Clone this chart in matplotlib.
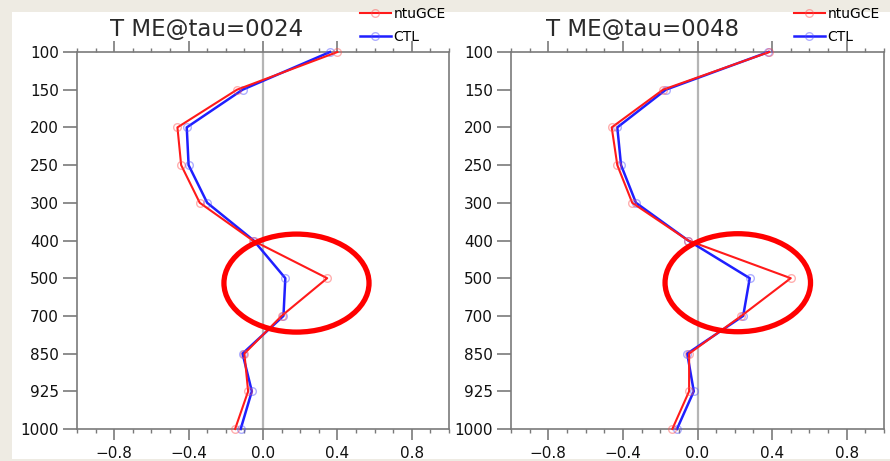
import matplotlib
matplotlib.use("Agg")
import matplotlib.pyplot as plt
from matplotlib.patches import Rectangle, Ellipse
from matplotlib.ticker import MultipleLocator, FixedLocator

levels = ["100", "150", "200", "250", "300", "400", "500", "700", "850", "925", "1000"]

ntugce_24 = [0.40, -0.14, -0.46, -0.44, -0.34, -0.055, 0.345, 0.10, -0.10, -0.08, -0.15]
ctl_24    = [0.36, -0.11, -0.41, -0.40, -0.30, -0.05, 0.12, 0.11, -0.11, -0.06, -0.12]

ntugce_48 = [0.385, -0.185, -0.46, -0.43, -0.35, -0.05, 0.50, 0.235, -0.045, -0.045, -0.135]
ctl_48    = [0.38, -0.17, -0.43, -0.41, -0.33, -0.05, 0.28, 0.245, -0.055, -0.02, -0.11]

titles = ["T ME@tau=0024", "T ME@tau=0048"]
xticks = [-0.8, -0.4, 0.0, 0.4, 0.8]
xticklabels = ["\u22120.8", "\u22120.4", "0.0", "0.4", "0.8"]

W, H = 890, 461
fig = plt.figure(figsize=(W / 100, H / 100), dpi=100)
fig.patch.set_facecolor("#eeebe3")
fig.add_artist(Rectangle((12 / W, 2 / H), 878 / W, 447 / H, transform=fig.transFigure,
                         facecolor="white", edgecolor="none", zorder=0))

axes_px = [(77, 372), (511, 373)]
title_cx = [207, 643]
legend_x = [360, 794]
ell = [(0.18, 6.13), (0.216, 6.12)]

spine_col = "#7a7a7a"
ypos = list(range(len(levels)))

for i, (red, blue) in enumerate([(ntugce_24, ctl_24), (ntugce_48, ctl_48)]):
    left, width = axes_px[i]
    ax = fig.add_axes([left / W, (H - 429) / H, width / W, 377 / H])
    ax.set_facecolor("none")
    ax.set_xlim(-1.0, 1.0)
    ax.set_ylim(len(levels) - 1, 0)
    ax.axvline(0.0, color="#b5b5b5", lw=1.6, zorder=1)
    lb, = ax.plot(blue, ypos, color="#1f1fff", lw=1.8, marker="o", ms=5.5,
                  mfc="none", mec=(0.3, 0.3, 1.0, 0.45), mew=1.0, clip_on=False, zorder=3,
                  label="CTL")
    lr, = ax.plot(red, ypos, color="#ff1a1a", lw=1.5, marker="o", ms=5.5,
                  mfc="none", mec=(1.0, 0.3, 0.3, 0.45), mew=1.0, clip_on=False, zorder=4,
                  label="ntuGCE")
    ax.add_patch(Ellipse(ell[i], 0.78, 2.6, fill=False, edgecolor="#ff0000", lw=3.8, zorder=5,
                         clip_on=False))

    for s in ax.spines.values():
        s.set_color(spine_col)
        s.set_linewidth(1.2)
    ax.xaxis.set_major_locator(FixedLocator(xticks))
    ax.set_xticklabels(xticklabels)
    ax.xaxis.set_minor_locator(MultipleLocator(0.1))
    ax.tick_params(axis="x", which="major", direction="out", length=8, width=1.2,
                   color=spine_col, top=True, bottom=True, labelsize=11, pad=4,
                   labelcolor="#111111")
    ax.tick_params(axis="x", which="minor", direction="out", length=3, width=1.0,
                   color=spine_col, top=True, bottom=True)
    ax.set_yticks(ypos)
    ax.set_yticklabels(levels)
    ax.tick_params(axis="y", which="major", direction="out", length=10, width=1.2,
                   color=spine_col, left=True, right=False, labelsize=11, pad=3,
                   labelcolor="#111111")

    fig.text(title_cx[i] / W, 1 - 29 / H, titles[i], ha="center", va="center",
             fontsize=16.5, color="#2a2a2a")

    ax.legend(handles=[lr, lb], loc="upper left",
              bbox_to_anchor=(legend_x[i] / W, 1 - 7 / H), bbox_transform=fig.transFigure,
              frameon=False, fontsize=10, handlelength=2.2, handletextpad=0.2,
              borderpad=0, borderaxespad=0, labelspacing=0.65)

fig.savefig("out.png", dpi=100, facecolor=fig.get_facecolor())
